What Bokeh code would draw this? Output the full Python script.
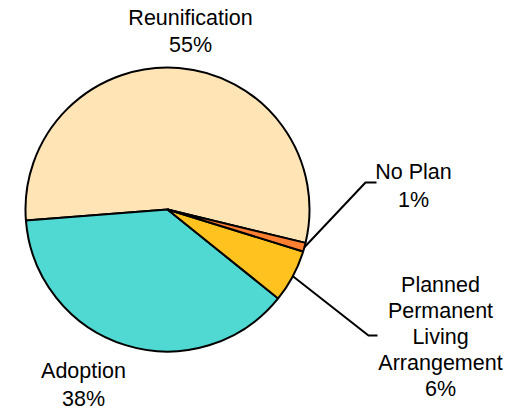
import math
from bokeh.plotting import figure
from bokeh.models import Range1d, ColumnDataSource
from bokeh.core.properties import value
from bokeh.embed import file_html
from bokeh.resources import INLINE

# ---- data ----
categories = ["Reunification", "Adoption", "Planned Permanent Living Arrangement", "No Plan"]
percents = [55, 38, 6, 1]
label_lines = [["Reunification", "55%"], ["Adoption", "38%"],
               ["Planned", "Permanent", "Living", "Arrangement", "6%"], ["No Plan", "1%"]]
colors = ["#FFE5B6", "#50D8D3", "#FFC21E", "#FF8030"]

# ---- layout (page pixel coordinates; y flipped so that data y is up) ----
W, H = 512, 409
def fy(py):
    return H - py

cx, cy, r = 167, fy(209), 142
start_deg = -13.6  # where the first slice starts (counter-clockwise)

total = sum(percents)
starts, ends = [], []
a = math.radians(start_deg)
for v in percents:
    starts.append(a)
    a += 2 * math.pi * v / total
    ends.append(a)

p = figure(width=W, height=H, output_backend="svg", toolbar_location=None,
           x_range=Range1d(0, W), y_range=Range1d(0, H),
           min_border=0, outline_line_color=None)
p.axis.visible = False
p.grid.visible = False
p.background_fill_color = "white"
p.border_fill_color = "white"

src = ColumnDataSource(dict(start=starts, end=ends, color=colors, cat=categories))
p.wedge(x=cx, y=cy, radius=r, start_angle="start", end_angle="end",
        fill_color="color", line_color="black", line_width=2, source=src)

# labels
label_pos = {  # (center x, first line y in page px, line spacing)
    "Reunification": (190, 17, 27),
    "Adoption": (83, 370, 28),
    "Planned Permanent Living Arrangement": (440, 284, 26),
    "No Plan": (413, 171, 28),
}
tx, ty, tt = [], [], []
for cat, lines in zip(categories, label_lines):
    x0, y0, dy = label_pos[cat]
    for i, ln in enumerate(lines):
        tx.append(x0)
        ty.append(fy(y0 + i * dy))
        tt.append(ln)
p.text(x=tx, y=ty, text=tt, text_font=value("Liberation Sans"), text_font_size="21.5px",
       text_align="center", text_baseline="middle", text_color="black")

# leader lines for the small slices
leaders = {
    "No Plan": (365, 182, 376),
    "Planned Permanent Living Arrangement": (368, 335, 377),
}
for cat, s, e in zip(categories, starts, ends):
    if cat in leaders:
        mid = (s + e) / 2
        ex, ey = cx + r * math.cos(mid), cy + r * math.sin(mid)
        bx, by, hx = leaders[cat]
        p.line([ex, bx, hx], [ey, fy(by), fy(by)], line_color="black", line_width=2)

open("out.html", "w").write(file_html(p, INLINE))
